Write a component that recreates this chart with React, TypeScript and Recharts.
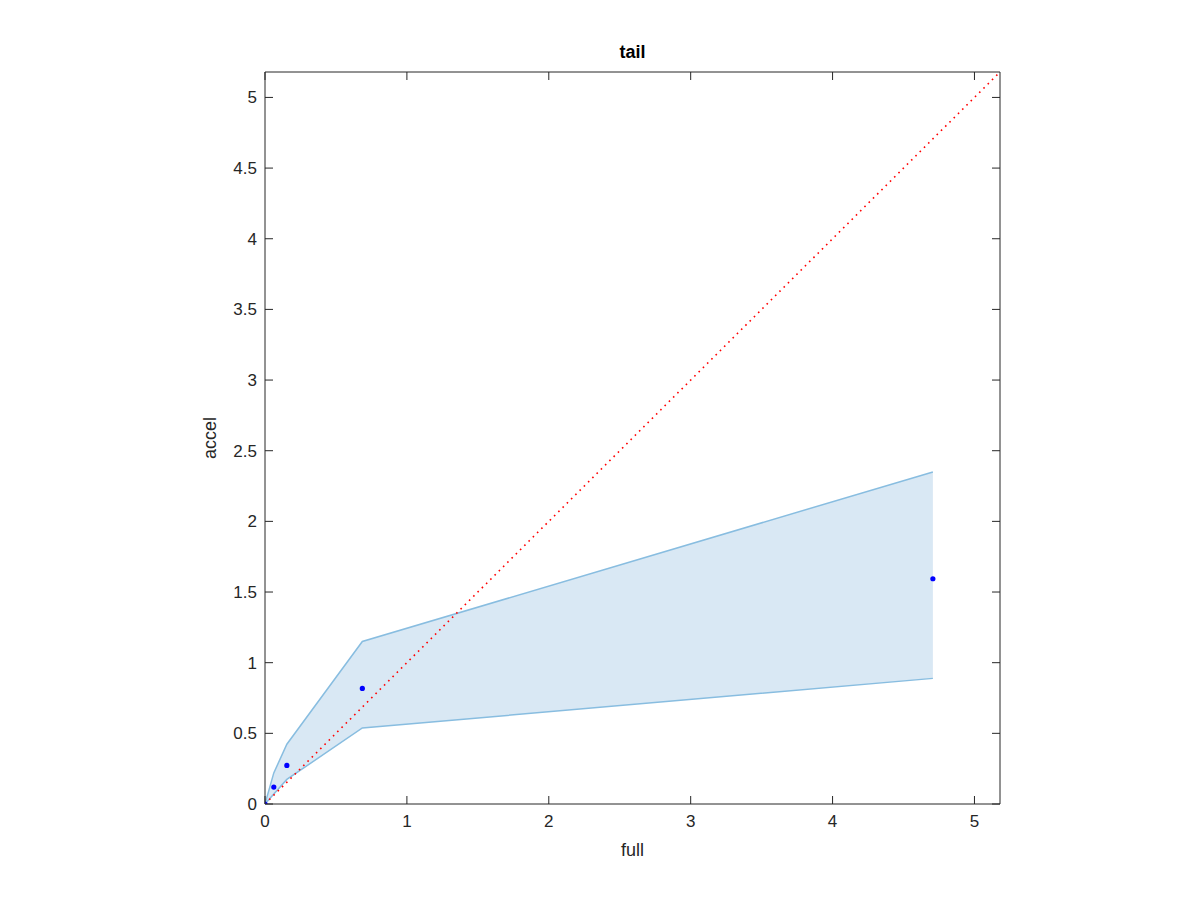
import React from 'react'
import {
  ComposedChart,
  Area,
  Scatter,
  XAxis,
  YAxis,
  Label,
} from 'recharts'

// axis extent (axis equal, both run a bit past 5)
const AXIS_MAX = 5.18

const xTicks = [0, 1, 2, 3, 4, 5]
const yTicks = [0, 0.5, 1, 1.5, 2, 2.5, 3, 3.5, 4, 4.5, 5]

// confidence band (lower, upper) over "full"
const bandX = [0, 0.062, 0.154, 0.686, 4.707]
const bandLow = [0, 0.07, 0.174, 0.538, 0.889]
const bandHigh = [0, 0.22, 0.423, 1.15, 2.35]

// measured points
const pointX = [0, 0.062, 0.154, 0.686, 4.707]
const pointY = [0, 0.12, 0.273, 0.818, 1.594]

// y = x reference diagonal
const diagX = [0, AXIS_MAX]

const bandData = bandX.map((x, i) => ({ x, range: [bandLow[i], bandHigh[i]] }))
const pointData = pointX.map((x, i) => ({ x, y: pointY[i] }))
const diagData = diagX.map((x) => ({ x, y: x }))

const INK = '#262626'
const FONT = '"Liberation Sans", Arial, Helvetica, sans-serif'
const TICK_LEN = 8

const fmt = (v: number) => String(v)

function BottomTick({ x, y, payload }: any) {
  return (
    <g>
      <line x1={x} y1={y} x2={x} y2={y - TICK_LEN} stroke={INK} />
      <text x={x} y={y + 23} textAnchor="middle" fill={INK} fontSize={17} fontFamily={FONT}>
        {fmt(payload.value)}
      </text>
    </g>
  )
}

function LeftTick({ x, y, payload }: any) {
  return (
    <g>
      <line x1={x} y1={y} x2={x + TICK_LEN} y2={y} stroke={INK} />
      <text x={x - 8} y={y + 6} textAnchor="end" fill={INK} fontSize={17} fontFamily={FONT}>
        {fmt(payload.value)}
      </text>
    </g>
  )
}

function TopTick({ x, y }: any) {
  return <line x1={x} y1={y} x2={x} y2={y + TICK_LEN} stroke={INK} />
}

function RightTick({ x, y }: any) {
  return <line x1={x} y1={y} x2={x - TICK_LEN} y2={y} stroke={INK} />
}

function Dot({ cx, cy }: any) {
  return <circle cx={cx} cy={cy} r={2.6} fill="#0000ff" />
}

const NoShape = () => <g />

export default function App() {
  return (
    <div style={{ position: 'absolute', left: 0, top: 0, background: '#fff' }}>
      <ComposedChart
        width={1200}
        height={900}
        data={bandData}
        margin={{ top: 70, right: 198, bottom: 66, left: 205 }}
      >
        <XAxis
          dataKey="x"
          type="number"
          domain={[0, AXIS_MAX]}
          ticks={xTicks}
          allowDataOverflow
          height={30}
          tickSize={0}
          tickMargin={0}
          tickLine={false}
          axisLine={{ stroke: INK }}
          tick={<BottomTick />}
          interval={0}
        >
          <Label
            content={({ viewBox }: any) => (
              <text
                x={viewBox.x + viewBox.width / 2}
                y={viewBox.y + 52}
                textAnchor="middle"
                fill={INK}
                fontSize={18}
                fontFamily={FONT}
              >
                full
              </text>
            )}
          />
        </XAxis>
        <XAxis
          xAxisId="top"
          orientation="top"
          dataKey="x"
          type="number"
          domain={[0, AXIS_MAX]}
          ticks={xTicks}
          allowDataOverflow
          height={2}
          tickSize={0}
          tickMargin={0}
          tickLine={false}
          axisLine={{ stroke: INK }}
          tick={<TopTick />}
          interval={0}
        >
          <Label
            content={({ viewBox }: any) => (
              <text
                x={viewBox.x + viewBox.width / 2}
                y={viewBox.y - 12}
                textAnchor="middle"
                fill="#000"
                fontSize={18}
                fontWeight="bold"
                fontFamily={FONT}
              >
                tail
              </text>
            )}
          />
        </XAxis>
        <YAxis
          dataKey="y"
          type="number"
          domain={[0, AXIS_MAX]}
          ticks={yTicks}
          allowDataOverflow
          width={60}
          tickSize={0}
          tickMargin={0}
          tickLine={false}
          axisLine={{ stroke: INK }}
          tick={<LeftTick />}
          interval={0}
        >
          <Label
            content={({ viewBox }: any) => {
              const cx = viewBox.x + 11
              const cy = viewBox.y + viewBox.height / 2
              return (
                <text
                  x={cx}
                  y={cy}
                  transform={`rotate(-90 ${cx} ${cy})`}
                  textAnchor="middle"
                  fill={INK}
                  fontSize={18}
                  fontFamily={FONT}
                >
                  accel
                </text>
              )
            }}
          />
        </YAxis>
        <YAxis
          yAxisId="right"
          orientation="right"
          type="number"
          domain={[0, AXIS_MAX]}
          ticks={yTicks}
          allowDataOverflow
          width={2}
          tickSize={0}
          tickMargin={0}
          tickLine={false}
          axisLine={{ stroke: INK }}
          tick={<RightTick />}
          interval={0}
        />

        <Area
          type="linear"
          dataKey="range"
          stroke="#88bde0"
          strokeWidth={1.5}
          fill="#d9e8f4"
          fillOpacity={1}
          isAnimationActive={false}
          dot={false}
          activeDot={false}
        />
        <Scatter
          data={diagData}
          dataKey="y"
          shape={<NoShape />}
          line={{ stroke: '#ff0000', strokeWidth: 1.6, strokeDasharray: '1.6 4.4' }}
          isAnimationActive={false}
        />
        <Scatter data={pointData} dataKey="y" shape={<Dot />} isAnimationActive={false} />
      </ComposedChart>
    </div>
  )
}
